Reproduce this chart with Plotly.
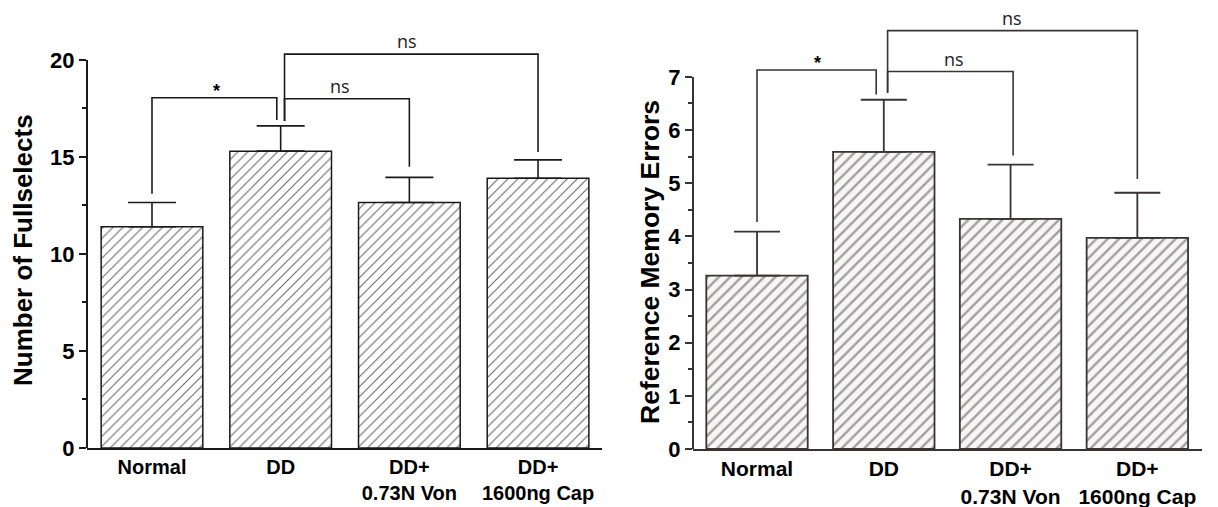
import plotly.graph_objects as go

# ---------------- data ----------------
categories = ["Normal", "DD", "DD+<br>0.73N Von", "DD+<br>1600ng Cap"]
x_pos = [0, 1, 2, 3]

fullselects_mean = [11.4, 15.3, 12.65, 13.9]
fullselects_err = [1.25, 1.3, 1.3, 0.95]

ref_errors_mean = [3.26, 5.59, 4.33, 3.97]
ref_errors_err = [0.83, 0.98, 1.02, 0.85]

left_ticks = [0, 5, 10, 15, 20]
left_minor = [2.5, 7.5, 12.5, 17.5]
right_ticks = [0, 1, 2, 3, 4, 5, 6, 7]
right_minor = [0.5, 1.5, 2.5, 3.5, 4.5, 5.5, 6.5]

# significance brackets
left_br_x = [(0, 0.97), (1.03, 2.0), (1.03, 3.0)]
left_br_top = [18.05, 18.0, 20.3]
left_br_legs = [(13.1, 16.9), (16.85, 14.5), (16.85, 15.25)]
left_br_label = ["*", "ns", "ns"]
left_br_label_x = [0.5, 1.46, 1.98]

right_br_x = [(0, 0.94), (1.03, 2.02), (1.03, 3.0)]
right_br_top = [7.13, 7.10, 7.87]
right_br_legs = [(4.27, 6.67), (6.70, 5.52), (6.70, 5.08)]
right_br_label = ["*", "ns", "ns"]
right_br_label_x = [0.48, 1.55, 2.01]

W, H = 1218, 507
FONT = "Liberation Sans, Arial, sans-serif"
LC = "#1a1a1a"
RC = "#3a3333"

fig = go.Figure()

fig.add_trace(go.Bar(
    x=x_pos, y=fullselects_mean, width=0.79,
    error_y=dict(type="data", symmetric=False, array=fullselects_err,
                 arrayminus=[0] * 4, color=LC, thickness=1.6, width=24),
    marker=dict(color="white", line=dict(color=LC, width=1.5),
                pattern=dict(shape="/", fgcolor="#666666", bgcolor="white",
                             size=7, solidity=0.15)),
    xaxis="x", yaxis="y", showlegend=False))

fig.add_trace(go.Bar(
    x=x_pos, y=ref_errors_mean, width=0.80,
    error_y=dict(type="data", symmetric=False, array=ref_errors_err,
                 arrayminus=[0] * 4, color=RC, thickness=1.8, width=23),
    marker=dict(color="#f6f6f6", line=dict(color=RC, width=1.8),
                pattern=dict(shape="/", fgcolor="#a29e9e", bgcolor="#f6f6f6",
                             size=8, solidity=0.3)),
    xaxis="x2", yaxis="y2", showlegend=False))

shapes = []
annotations = []


def add_brackets(xref, yref, bx, btop, blegs, blabels, blx, color):
    for (x0, x1), top, (b0, b1), lab, lx in zip(bx, btop, blegs, blabels, blx):
        shapes.append(dict(type="path", xref=xref, yref=yref,
                           path=f"M {x0},{b0} L {x0},{top} L {x1},{top} L {x1},{b1}",
                           line=dict(color=color, width=1.6)))
        if lab == "*":
            annotations.append(dict(xref=xref, yref=yref, x=lx, y=top, text="*",
                                    showarrow=False, yanchor="bottom", yshift=-5,
                                    font=dict(family=FONT, size=18, color="black", weight="bold")))
        else:
            annotations.append(dict(xref=xref, yref=yref, x=lx, y=top, text=lab,
                                    showarrow=False, yanchor="bottom", yshift=-1,
                                    font=dict(family="Open Sans, sans-serif", size=18, color="#222")))


add_brackets("x", "y", left_br_x, left_br_top, left_br_legs, left_br_label, left_br_label_x, LC)
add_brackets("x2", "y2", right_br_x, right_br_top, right_br_legs, right_br_label, right_br_label_x, RC)

# y-axis lines that stop at the top tick
shapes.append(dict(type="line", xref="x domain", yref="y", x0=0, x1=0,
                   y0=left_ticks[0], y1=left_ticks[-1], line=dict(color=LC, width=2)))
shapes.append(dict(type="line", xref="x2 domain", yref="y2", x0=0, x1=0,
                   y0=right_ticks[0], y1=right_ticks[-1], line=dict(color=RC, width=2)))

# axis titles
annotations.append(dict(xref="paper", yref="paper", x=23 / W, y=1 - 250 / H,
                        xanchor="center", yanchor="middle",
                        text="Number of Fullselects", textangle=-90, showarrow=False,
                        font=dict(family=FONT, size=26, color="black", weight="bold")))
annotations.append(dict(xref="paper", yref="paper", x=650 / W, y=1 - 262 / H,
                        xanchor="center", yanchor="middle",
                        text="Reference Memory Errors", textangle=-90, showarrow=False,
                        font=dict(family=FONT, size=26.5, color="black", weight="bold")))

tickfont_y = dict(family=FONT, size=22, color="black", weight="bold")

common_x = dict(ticks="", showline=True, linewidth=2, showgrid=False, zeroline=False,
                automargin=False, fixedrange=True)
common_y = dict(ticks="outside", ticklen=7, tickwidth=2, showline=False,
                showgrid=False, zeroline=False, automargin=False,
                tickfont=tickfont_y, fixedrange=True)

fig.update_layout(
    template="none",
    width=W, height=H, margin=dict(l=0, r=0, t=0, b=0, autoexpand=False),
    paper_bgcolor="white", plot_bgcolor="white",
    shapes=shapes, annotations=annotations, showlegend=False,
    xaxis=dict(domain=[87 / W, 602 / W], range=[-0.505, 3.497], anchor="y",
               tickvals=x_pos, ticktext=categories, linecolor=LC,
               tickfont=dict(family=FONT, size=20, color="black", weight="bold"),
               **common_x),
    yaxis=dict(domain=[1 - 448 / H, 0.93], range=[0, 21.26], anchor="x",
               tickvals=left_ticks, tickcolor=LC,
               minor=dict(tickvals=left_minor, ticks="outside", ticklen=4,
                          tickwidth=1.5, tickcolor=LC, showgrid=False),
               **common_y),
    xaxis2=dict(domain=[693 / W, 1202 / W], range=[-0.505, 3.51], anchor="y2",
                tickvals=x_pos, ticktext=categories, linecolor=RC,
                tickfont=dict(family=FONT, size=21, color="black", weight="bold"),
                **common_x),
    yaxis2=dict(domain=[1 - 449 / H, 1 - 20 / H], range=[0, 8.07], anchor="x2",
                tickvals=right_ticks, tickcolor=RC,
                minor=dict(tickvals=right_minor, ticks="outside", ticklen=4,
                           tickwidth=1.5, tickcolor=RC, showgrid=False),
                **common_y),
)

fig.write_html("out.html")
